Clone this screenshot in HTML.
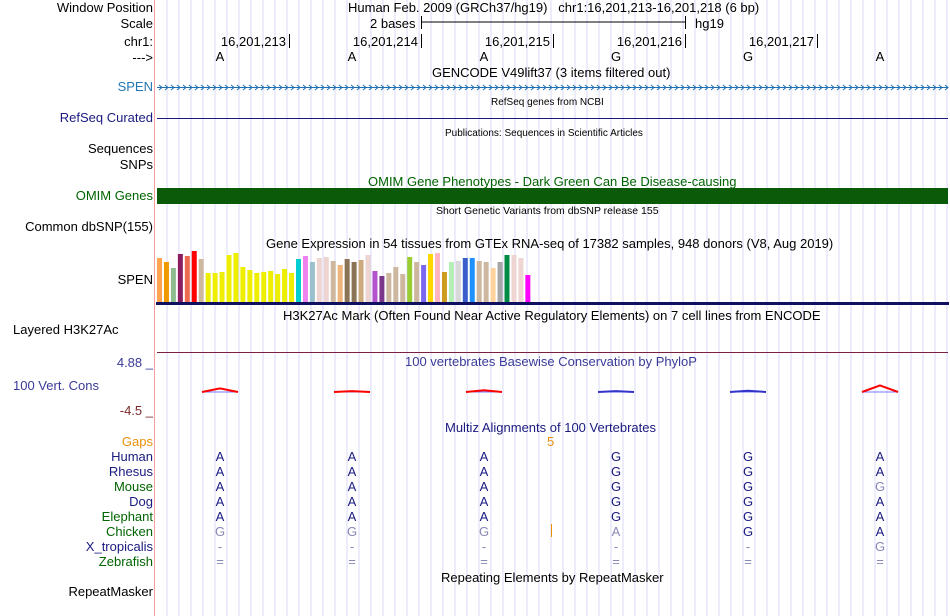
<!DOCTYPE html>
<html><head><meta charset="utf-8"><style>
body{margin:0;width:950px;height:616px;overflow:hidden;background:#fff;font-family:"Liberation Sans",sans-serif;font-size:13px;position:relative}
.l{position:absolute;right:797px;white-space:nowrap;line-height:15px}
.ll{position:absolute;left:13px;white-space:nowrap;line-height:15px}
.t{position:absolute;white-space:nowrap;line-height:15px}
.c{position:absolute;white-space:nowrap;line-height:15px;transform:translateX(-50%)}
.s{font-size:11px;line-height:13px}
</style></head><body>
<svg id="g" width="950" height="616" style="position:absolute;left:0;top:0"></svg>
<div class="l" style="top:0px">Window Position</div>
<div class="l" style="top:16px">Scale</div>
<div class="l" style="top:34px">chr1:</div>
<div class="l" style="top:50px">---&gt;</div>
<div class="l" style="top:79px;color:#1f77b4">SPEN</div>
<div class="l" style="top:110px;color:#1a1a80">RefSeq Curated</div>
<div class="l" style="top:141px">Sequences</div>
<div class="l" style="top:157px">SNPs</div>
<div class="l" style="top:188px;color:#006400">OMIM Genes</div>
<div class="l" style="top:219px">Common dbSNP(155)</div>
<div class="l" style="top:272px">SPEN</div>
<div class="ll" style="top:322px">Layered H3K27Ac</div>
<div class="ll" style="top:378px;color:#3a3a99">100 Vert. Cons</div>
<div class="l" style="top:355px;color:#3a3a99">4.88 _</div>
<div class="l" style="top:403px;color:#7a2a2a">-4.5 _</div>
<div class="l" style="top:434px;color:#e8900a">Gaps</div>
<div class="l" style="top:449px;color:#1a1a80">Human</div>
<div class="l" style="top:464px;color:#1a1a80">Rhesus</div>
<div class="l" style="top:479px;color:#006400">Mouse</div>
<div class="l" style="top:494px;color:#1a1a80">Dog</div>
<div class="l" style="top:509px;color:#006400">Elephant</div>
<div class="l" style="top:524px;color:#006400">Chicken</div>
<div class="l" style="top:539px;color:#1a1a80">X_tropicalis</div>
<div class="l" style="top:554px;color:#006400">Zebrafish</div>
<div class="l" style="top:584px">RepeatMasker</div>

<div class="t" style="left:348px;top:0px">Human Feb. 2009 (GRCh37/hg19)&nbsp;&nbsp;&nbsp;chr1:16,201,213-16,201,218 (6 bp)</div>
<div class="t" style="left:370px;top:16px">2 bases</div>
<div class="t" style="left:695px;top:16px">hg19</div>
<div class="t" style="left:432px;top:65px">GENCODE V49lift37 (3 items filtered out)</div>
<div class="t s" style="left:491px;top:96px;font-size:10px">RefSeq genes from NCBI</div>
<div class="t s" style="left:445px;top:127px;font-size:10px">Publications: Sequences in Scientific Articles</div>
<div class="t" style="left:368px;top:174px;color:#006400">OMIM Gene Phenotypes - Dark Green Can Be Disease-causing</div>
<div class="t s" style="left:436px;top:205px;font-size:10.5px">Short Genetic Variants from dbSNP release 155</div>
<div class="t" style="left:266px;top:236px">Gene Expression in 54 tissues from GTEx RNA-seq of 17382 samples, 948 donors (V8, Aug 2019)</div>
<div class="t" style="left:283px;top:308px">H3K27Ac Mark (Often Found Near Active Regulatory Elements) on 7 cell lines from ENCODE</div>
<div class="t" style="left:405px;top:354px;color:#3a3a99">100 vertebrates Basewise Conservation by PhyloP</div>
<div class="t" style="left:445px;top:420px;color:#1a1a80">Multiz Alignments of 100 Vertebrates</div>
<div class="t" style="left:547px;top:434px;color:#e8900a">5</div>
<div class="t" style="left:441px;top:570px">Repeating Elements by RepeatMasker</div>
<div id="txt"></div>
<script>
const positions=["16,201,213","16,201,214","16,201,215","16,201,216","16,201,217"];
const bases=["A","A","A","G","G","A"];
const gtexHeights=[44,40,34,48,46,51,43,29,29,30,47,49,35,32,29,30,31,28,33,29,43,46,40,44,45,41,37,43,40,42,47,31,26,29,35,28,45,40,37,48,49,30,40,41,44,44,41,40,34,40,47,47,44,27];
const gtexColors=["#FFA54F","#EE9A00","#8FBC8F","#8B1C62","#EE6A50","#FF0000","#CDB79E","#EEEE00","#EEEE00","#EEEE00","#EEEE00","#EEEE00","#EEEE00","#EEEE00","#EEEE00","#EEEE00","#EEEE00","#EEEE00","#EEEE00","#EEEE00","#00CED1","#EE82EE","#9AC0CD","#EED5D2","#EED5D2","#CDB79E","#EEB479","#8B7355","#8B7355","#CDAA7D","#EED5D2","#B452CD","#7A378B","#CDB79E","#CDB79E","#CDB79E","#9ACD32","#CDB79E","#7B68EE","#FFD700","#FFB6C1","#CD9B1D","#B4EEB4","#D9D9D9","#3A5FCD","#1E90FF","#CDB79E","#CDB79E","#FFD39B","#A6A6A6","#008B45","#EED5D2","#EED5D2","#FF00FF"];
const species=["Human","Rhesus","Mouse","Dog","Elephant","Chicken","X_tropicalis","Zebrafish"];
const align=[["A","A","A","G","G","A"],["A","A","A","G","G","A"],["A","A","A","G","G","G"],["A","A","A","G","G","A"],["A","A","A","G","G","A"],["G","G","G","A","G","A"],["-","-","-","-","-","G"],["=","=","=","=","=","="]];
const consScores=[1.2,0.3,0.6,-0.3,-0.4,2.2];
const NS="http://www.w3.org/2000/svg",g=document.getElementById('g'),txt=document.getElementById('txt');
function el(t,a){const e=document.createElementNS(NS,t);for(const k in a)e.setAttribute(k,a[k]);g.appendChild(e);return e;}
const x0=220,bw=132;const bx=i=>x0+i*bw;
for(let x=167;x<950;x+=12){const l=el('line',{x1:x,y1:0,x2:x,y2:616,stroke:'#d8d8f4','stroke-width':1});

}
const pk=el('line',{x1:154.5,y1:0,x2:154.5,y2:616,stroke:'#f4a0a0'});


el('line',{x1:421,y1:22,x2:685,y2:22,stroke:'#000'});el('line',{x1:421.5,y1:16,x2:421.5,y2:29,stroke:'#000'});el('line',{x1:685.5,y1:16,x2:685.5,y2:29,stroke:'#000'});
positions.forEach((p,i)=>{const x=bx(i)+69;el('line',{x1:x+.5,y1:34,x2:x+.5,y2:48,stroke:'#000'});
const d=document.createElement('div');d.className='t';d.style.right=(950-x+3)+'px';d.style.top='34px';d.textContent=p;


txt.appendChild(d);});
bases.forEach((b,i)=>{const d=document.createElement('div');d.className='c';d.style.left=bx(i)+'px';d.style.top='49px';d.textContent=b;


txt.appendChild(d);});
el('line',{x1:157,y1:87.5,x2:948,y2:87.5,stroke:'#1f6fb4'});
let ar='';for(let x=159;x<948;x+=6)ar+=`M${x},85 L${x+3},87.5 L${x},90 `;el('path',{d:ar,stroke:'#1f6fb4',fill:'none'});
el('line',{x1:157,y1:118.5,x2:948,y2:118.5,stroke:'#1a1a80'});
const om=el('rect',{x:157,y:188,width:791,height:16,fill:'#0a5a0a'});


const base=302;gtexHeights.forEach((h,i)=>{const r=el('rect',{x:157+i*6.95,y:base-h,width:5,height:h,fill:gtexColors[i]});

});
el('rect',{x:156,y:302,width:793,height:3,fill:'#101060'});
el('line',{x1:157,y1:352.5,x2:948,y2:352.5,stroke:'#7a2040'});
const cy=392;consScores.forEach((s,i)=>{const x=bx(i),h=Math.abs(s)*3,c=s>0?'#f00':'#33c';
el('line',{x1:x-18,y1:cy,x2:x+18,y2:cy,stroke:'#77f','stroke-width':1});
const p=el('path',{d:`M${x-18},${cy} L${x},${cy-h} L${x+18},${cy}`,stroke:c,fill:'none','stroke-width':2});

});
align.forEach((row,r)=>row.forEach((b,i)=>{const d=document.createElement('div');d.className='c';d.style.left=bx(i)+'px';d.style.top=(449+r*15)+'px';
const dim=(b!==bases[i]);d.style.color=dim?'#8888b8':'#1a1a80';d.textContent=b;


txt.appendChild(d);}));
el('line',{x1:551.5,y1:524,x2:551.5,y2:537,stroke:'#e8900a'});
</script>
</body></html>
